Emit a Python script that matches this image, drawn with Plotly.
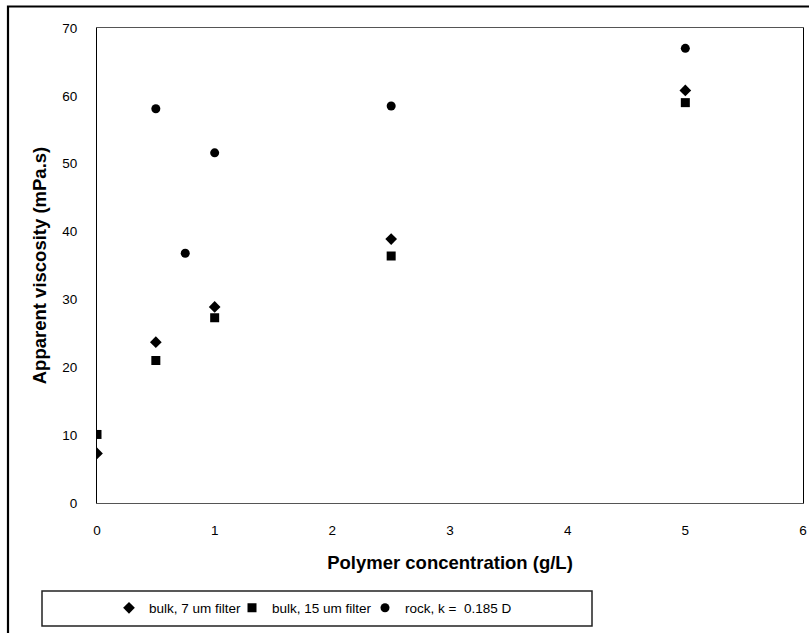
import plotly.graph_objects as go

# Data
rock_x = [0.5, 0.75, 1.0, 2.5, 5.0]
rock_y = [58.1, 36.8, 51.6, 58.5, 67.0]

bulk7_x = [0.0, 0.5, 1.0, 2.5, 5.0]
bulk7_y = [7.3, 23.7, 28.9, 38.9, 60.8]

bulk15_x = [0.0, 0.5, 1.0, 2.5, 5.0]
bulk15_y = [10.1, 21.0, 27.3, 36.4, 59.0]

x_ticks = [0, 1, 2, 3, 4, 5, 6]
y_ticks = [0, 10, 20, 30, 40, 50, 60, 70]

W, H = 809, 633
L, R, T, B = 97, 6, 28, 130
pw = W - L - R
ph = H - T - B

def px(xp):
    return (xp - L) / pw

def py(yp):
    return (H - B - yp) / ph

FONT = "Liberation Sans, Arial, sans-serif"

fig = go.Figure()
fig.add_trace(go.Scatter(x=bulk7_x, y=bulk7_y, mode="markers", name="bulk, 7 um filter",
                         legend="legend",
                         marker=dict(symbol="diamond", size=9, color="black")))
fig.add_trace(go.Scatter(x=bulk15_x, y=bulk15_y, mode="markers", name="bulk, 15 um filter",
                         legend="legend2",
                         marker=dict(symbol="square", size=9, color="black")))
fig.add_trace(go.Scatter(x=rock_x, y=rock_y, mode="markers", name="rock, k =  0.185 D",
                         legend="legend3",
                         marker=dict(symbol="circle", size=9, color="black")))

def leg(marker_page_x):
    return dict(orientation="h", xanchor="left", yanchor="middle",
                x=px(marker_page_x - 20), y=py(608),
                bgcolor="rgba(0,0,0,0)", borderwidth=0,
                font=dict(family=FONT, size=13.5, color="black"),
                itemclick=False, itemdoubleclick=False)

fig.update_layout(
    width=W, height=H,
    margin=dict(l=L, r=R, t=T, b=B, autoexpand=False),
    paper_bgcolor="white", plot_bgcolor="white",
    font=dict(family=FONT, size=13.5, color="black"),
    showlegend=True,
    legend=leg(129),
    legend2=leg(252),
    legend3=leg(385),
    xaxis=dict(range=[0, 6], tickvals=x_ticks, ticks="", showgrid=False, zeroline=False,
               showline=True, linecolor="#555555", linewidth=1, mirror=True,
               ticklabelstandoff=15,
               title=dict(text="<b>Polymer concentration (g/L)</b>", standoff=18,
                          font=dict(family=FONT, size=18.5, color="black"))),
    yaxis=dict(range=[0, 70], tickvals=y_ticks, ticks="", showgrid=False, zeroline=False,
               showline=True, linecolor="black", linewidth=1, mirror=True,
               ticklabelstandoff=16,
               title=dict(text="<b>Apparent viscosity (mPa.s)</b>", standoff=10,
                          font=dict(family=FONT, size=18.5, color="black"))),
    shapes=[
        dict(type="rect", xref="paper", yref="paper",
             x0=px(8), x1=px(815), y0=py(6.5), y1=py(645),
             line=dict(color="black", width=2.2), fillcolor="rgba(0,0,0,0)", layer="above"),
        dict(type="rect", xref="paper", yref="paper",
             x0=px(42), x1=px(592), y0=py(591), y1=py(626),
             line=dict(color="#222222", width=1.5), fillcolor="rgba(0,0,0,0)", layer="above"),
    ],
)

fig.write_html("out.html", config={"displayModeBar": False},
               post_script="document.body.style.margin='0';document.body.style.overflow='hidden';")
